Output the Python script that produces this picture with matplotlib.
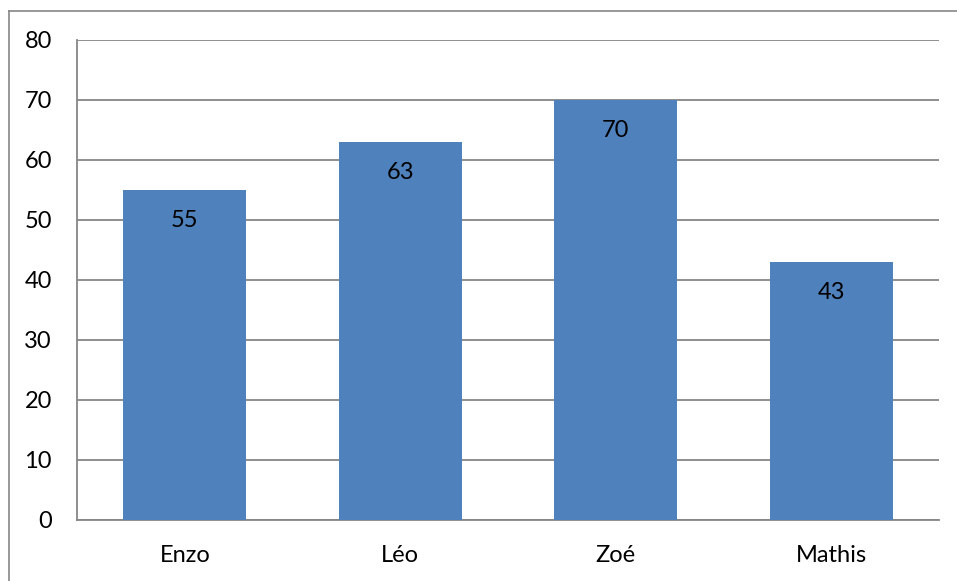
import matplotlib

matplotlib.use("Agg")
import matplotlib.pyplot as plt
from matplotlib.lines import Line2D

names = ["Enzo", "Léo", "Zoé", "Mathis"]
scores = [55, 63, 70, 43]
y_ticks = [0, 10, 20, 30, 40, 50, 60, 70, 80]

BAR_COLOR = "#4F81BD"
GRID_COLOR = "#868686"
FONT_SIZE = 17

plt.rcParams["font.family"] = ["Lato", "DejaVu Sans"]

fig = plt.figure(figsize=(9.57, 5.81), dpi=100)
W, H = 957, 581
ax = fig.add_axes([77 / W, (H - 520) / H, (939 - 77) / W, (520 - 40) / H])

x = range(len(names))
bars = ax.bar(x, scores, width=0.57, color=BAR_COLOR, zorder=3)

for rect, val in zip(bars, scores):
    ax.annotate(
        str(val),
        (rect.get_x() + rect.get_width() / 2, rect.get_height()),
        xytext=(0, -22),
        textcoords="offset points",
        ha="center",
        va="center",
        fontsize=FONT_SIZE,
        color="black",
        zorder=4,
    )

ax.set_xlim(-0.5, len(names) - 0.5)
ax.set_ylim(0, 80)
ax.set_yticks(y_ticks)
ax.set_xticks(list(x))
ax.set_xticklabels(names)
ax.tick_params(axis="both", length=0, labelsize=FONT_SIZE)
ax.tick_params(axis="y", pad=18)
ax.tick_params(axis="x", pad=18)

ax.yaxis.grid(True, color=GRID_COLOR, linewidth=1.3, zorder=0)
ax.set_axisbelow(True)
for side in ("top", "right"):
    ax.spines[side].set_visible(False)
for side in ("left", "bottom"):
    ax.spines[side].set_color(GRID_COLOR)
    ax.spines[side].set_linewidth(1.3)

# outer chart frame (left and top edges visible)
fig.add_artist(Line2D([8.5 / W, 8.5 / W], [0, 1 - 11 / H], color=GRID_COLOR, linewidth=1.2))
fig.add_artist(Line2D([8.5 / W, 1], [1 - 11 / H, 1 - 11 / H], color=GRID_COLOR, linewidth=1.2))

fig.savefig("out.png", dpi=100)
